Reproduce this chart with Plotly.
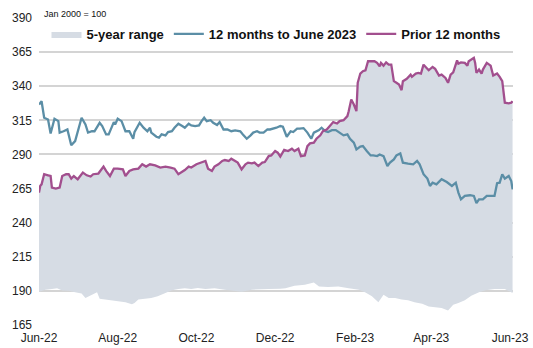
import pandas as pd
import plotly.graph_objects as go

BASE_DATE = "2022-06-01"

# 12 months to June 2023 (days since 1 Jun 2022, index value)
recent_days = [0, 2, 4, 7, 9, 12, 15, 16, 19, 22, 25, 28, 33, 36, 38, 41, 43, 47, 49, 52, 54, 58, 59, 61, 64, 67,
               70, 73, 74, 78, 81, 84, 86, 87, 91, 93, 95, 98, 100, 103, 105, 108, 111, 113, 116, 118, 121, 124,
               126, 128, 130, 133, 135, 138, 140, 143, 146, 149, 152, 156, 158, 161, 164, 166, 169, 171, 174, 177,
               179, 182, 184, 187, 189, 192, 195, 197, 200, 202, 205, 208, 211, 213, 217, 219, 222, 224, 227, 230,
               233, 236, 239, 241, 244, 246, 249, 251, 254, 257, 259, 262, 264, 267, 270, 272, 275, 277, 280, 282,
               286, 290, 293, 295, 298, 301, 303, 305, 308, 312, 316, 320, 323, 325, 327, 330, 334, 337, 339, 341,
               344, 347, 351, 353, 355, 357, 359, 361, 364, 366, 367]
recent_vals = [326.6, 329, 316.9, 315.6, 305.4, 316.2, 314.4, 306, 307, 308.3, 296.7, 299.8, 316.9, 312, 306, 307,
               307, 313.2, 310.8, 304.7, 304.7, 313.7, 312, 316.2, 314.4, 307, 307, 301.5, 306.4, 313.2, 309.6, 307,
               309.6, 306, 303, 302.3, 304.7, 304, 306.4, 307, 309.6, 312.5, 310.8, 309.6, 312.5, 311.3, 310.8,
               311.3, 314.4, 316.9, 314.4, 315.1, 313.2, 311.5, 313.7, 308.3, 308.3, 307, 307.6, 307, 304.7, 301.5,
               304, 306, 307, 306, 306, 308.3, 308.3, 309, 309.6, 310.8, 310.3, 303, 307, 306.4, 308.9, 308.9, 309.3,
               306, 301.5, 306, 307.8, 309.6, 307, 306.4, 307.8, 307.8, 306, 304, 304.7, 301.5, 298.6, 293.7, 295.7,
               296.1, 292.5, 289.3, 289.3, 288.8, 290, 288.8, 281.5, 284, 286.4, 289.3, 290.8, 284, 283.3, 282.8,
               285.2, 282.8, 275.5, 272.3, 266.9, 269.3, 268.1, 271.8, 269.8, 266.9, 269.3, 262, 257.1, 259.6, 260.1,
               259.6, 254.3, 257.1, 257.1, 259.6, 259.6, 259.6, 268.9, 269.3, 275.5, 272.3, 274.2, 270.5, 264.4]

# Prior 12 months
prior_days = [0, 1, 2, 4, 7, 9, 10, 13, 16, 18, 21, 23, 25, 27, 30, 34, 37, 40, 42, 46, 50, 52, 55, 58, 61, 65, 67,
              70, 73, 77, 80, 83, 86, 90, 94, 98, 102, 105, 108, 111, 113, 116, 118, 122, 126, 129, 131, 134, 136,
              139, 142, 144, 147, 149, 152, 154, 157, 160, 162, 165, 167, 170, 173, 175, 178, 180, 183, 185, 187,
              190, 193, 196, 198, 201, 203, 206, 208, 210, 213, 215, 218, 220, 223, 226, 228, 231, 233, 236, 239,
              240, 242, 244, 246, 247, 249, 251, 253, 255, 257, 260, 262, 264, 265, 267, 269, 271, 273, 275, 277,
              279, 281, 282, 285, 288, 289, 292, 294, 296, 298, 300, 302, 305, 307, 310, 312, 315, 317, 319, 321,
              324, 325, 327, 330, 332, 333, 337, 338, 339, 341, 343, 344, 347, 350, 352, 355, 357, 359, 361, 364,
              366, 367]
prior_vals = [262, 267, 268.1, 275.5, 274.7, 274.2, 265.7, 265, 265.7, 274.2, 275.5, 275.5, 272.3, 274.2, 271.8,
              276.7, 274.7, 273.8, 275.5, 276, 281.1, 277.9, 274.2, 279.6, 279.6, 279.1, 274.2, 277.9, 279.1, 279.6,
              282.8, 281.1, 282.8, 282, 280.4, 281.1, 280.4, 279.6, 275.5, 277.1, 278.6, 281.1, 280.4, 282.8, 284,
              285.2, 279.6, 277.9, 281.1, 282.8, 285.2, 285.9, 285.2, 286.9, 285.2, 284, 279.1, 282.8, 284, 283.5,
              284, 281.5, 284, 284.4, 288.8, 289.3, 292.5, 291.3, 288.4, 293.3, 292.5, 294.2, 292.5, 294.2, 288.8,
              289.3, 296.1, 298.1, 298.6, 301.5, 304, 307, 308.3, 311.3, 313.7, 312.7, 314.4, 315.1, 318.1, 321.7,
              330.3, 326.6, 321.7, 342.5, 349.3, 351, 351.7, 358.3, 358.3, 358.3, 357.1, 354.6, 357.1, 355.1, 357.5,
              355.8, 355.8, 343.7, 342.5, 341.2, 337.1, 343.7, 345.4, 348.5, 346.9, 349.3, 349.8, 349.3, 355.8,
              354.1, 351.7, 354.1, 352.7, 347.8, 348.5, 346.1, 342.5, 348.5, 350.2, 359, 356.6, 357.5, 357.1, 355.1,
              358.3, 360.8, 357.1, 349.8, 352.2, 349.3, 352.2, 357.1, 355.1, 347.8, 349.3, 346.9, 343.7, 327.9,
              327.4, 327.9, 329.1]

# 5-year range: lower bound (upper bound follows the prior-12-months path)
range_low_days = [0, 5, 10, 14, 18, 23, 28, 33, 36, 40, 45, 47, 51, 56, 61, 67, 72, 74, 77, 82, 87, 92, 98, 103,
                  108, 113, 118, 123, 129, 136, 144, 152, 157, 165, 173, 178, 187, 191, 198, 206, 213, 217, 224,
                  232, 240, 248, 253, 258, 263, 267, 271, 276, 281, 286, 291, 297, 302, 307, 312, 317, 321, 325,
                  330, 335, 341, 346, 353, 361, 365, 367]
range_low_vals = [189.4, 190.8, 191.3, 192, 190.3, 190.1, 189, 188, 184.8, 186.5, 189, 184.2, 183.6, 183.1, 182.4,
                  181.6, 180.2, 181.2, 183.6, 184.1, 184.8, 186, 188.5, 190.4, 191.4, 191.9, 191.4, 192.1, 191.4,
                  191.9, 190.9, 189.9, 189.4, 190.9, 190.9, 191.4, 191.6, 192, 193.7, 194.5, 196.1, 193.3, 192.8,
                  193.3, 192, 190.8, 188.8, 186, 181.6, 187.2, 184.8, 184.8, 183.6, 183.1, 181.6, 180.6, 178.6,
                  178.2, 177.5, 175.7, 179.9, 181.2, 183.1, 186.5, 189, 190.4, 191.4, 191.4, 189.7, 188.5]
range_high_days = prior_days
range_high_vals = prior_vals

y_ticks = [165, 190, 215, 240, 265, 290, 315, 340, 365, 390]


def to_dates(days):
    return pd.Timestamp(BASE_DATE) + pd.to_timedelta(days, unit="D")


BLUE = "#5b8ea6"
PURPLE = "#a24f8e"
AREA = "#d6dce4"
FONT = "Liberation Sans, Arial, sans-serif"

fig = go.Figure()
fig.add_trace(go.Scatter(x=to_dates(range_low_days), y=range_low_vals, mode="lines",
                         line=dict(width=0, color=AREA), showlegend=False, hoverinfo="skip"))
fig.add_trace(go.Scatter(x=to_dates(range_high_days), y=range_high_vals, mode="lines", fill="tonexty",
                         fillcolor=AREA, line=dict(width=0, color=AREA), name="5-year range"))
fig.add_trace(go.Scatter(x=to_dates(recent_days), y=recent_vals, mode="lines",
                         line=dict(width=2.3, color=BLUE), name="12 months to June 2023"))
fig.add_trace(go.Scatter(x=to_dates(prior_days), y=prior_vals, mode="lines",
                         line=dict(width=2.3, color=PURPLE), name="Prior 12 months"))

fig.update_layout(
    width=533, height=348,
    margin=dict(l=39, r=20, t=18, b=23),
    paper_bgcolor="white", plot_bgcolor="white",
    font=dict(family=FONT, size=12, color="#222222"),
    legend=dict(orientation="h", x=0.5, xanchor="center", y=0.948, yanchor="middle",
                traceorder="normal", bgcolor="rgba(0,0,0,0)",
                font=dict(size=13, color="#111111", weight="bold"),
                itemwidth=30, tracegroupgap=0),
    annotations=[dict(text="Jan 2000 = 100", xref="paper", yref="paper", x=0.006, y=1.013,
                      xanchor="left", yanchor="middle", showarrow=False,
                      font=dict(size=9, color="#111111"))],
)
fig.update_xaxes(type="date", range=["2022-06-01", "2023-06-03 08:00"], showgrid=False, zeroline=False,
                 showline=False, tick0="2022-06-01", dtick="M2", tickformat="%b-%y", ticks="",
                 ticklabelstandoff=4, automargin=False,
                 tickfont=dict(size=12, color="#222222"))
fig.update_yaxes(range=[165, 390], tickvals=y_ticks, showgrid=True, gridcolor="#d4d4d4", gridwidth=1.5,
                 zeroline=False, showline=False, ticks="", ticklabelstandoff=6, automargin=False,
                 tickfont=dict(size=12, color="#222222"))

fig.write_html("out.html")
